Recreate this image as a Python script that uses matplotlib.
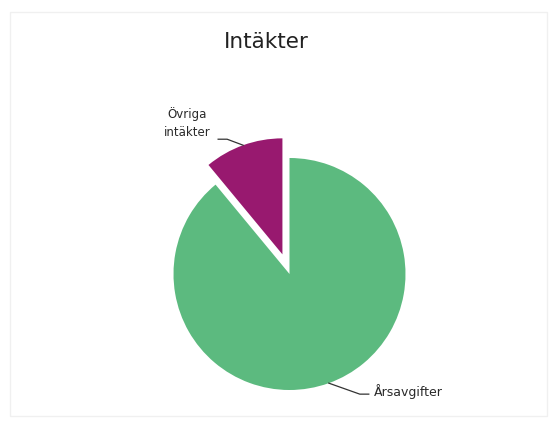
import matplotlib.pyplot as plt
import matplotlib.patches as mpatches
import numpy as np

labels = ['Övriga\nintäkter', 'Årsavgifter']
values = [11, 89]
colors = ['#98196F', '#5CBA7F']
explode = [0.18, 0]

fig = plt.figure(figsize=(5.51, 4.28), dpi=100, facecolor='white')

# faint frame round the chart
fig.patches.append(mpatches.Rectangle((10 / 551, 1 - 416 / 428), 537 / 551, 404 / 428,
                                      transform=fig.transFigure, fill=False,
                                      edgecolor='#f0f0f0', linewidth=1))

R = 116.0  # pie radius in pixels
cx, cy = 289.5, 274.0  # pie centre, pixels from top-left
lim = 1.3
w = 2 * lim * R
ax = fig.add_axes([(cx - lim * R) / 551, (428 - cy - lim * R) / 428, w / 551, w / 428])

wedges, _ = ax.pie(values, colors=colors, explode=explode, startangle=90,
                   counterclock=True, radius=1.0,
                   wedgeprops=dict(linewidth=0))
ax.set_xlim(-lim, lim)
ax.set_ylim(-lim, lim)
ax.set_aspect('equal')
ax.axis('off')

p = 1 / R  # one pixel in data units

# leader lines from the mid-angle of each wedge
pts = []
for wdg in wedges:
    mid = np.deg2rad((wdg.theta1 + wdg.theta2) / 2)
    c = wdg.center
    pts.append((c[0] + np.cos(mid), c[1] + np.sin(mid)))

# Övriga intäkter
px, py = pts[0]
ax.plot([px, px - 16 * p, px - 25 * p], [py, py + 6 * p, py + 6 * p],
        color='#333333', lw=0.9, clip_on=False)
ax.text(-102 * p, 167 * p, labels[0], ha='center', va='top', fontsize=8.5,
        color='#2a2a2a', linespacing=1.5, clip_on=False)

# Årsavgifter
px, py = pts[1]
ax.plot([px, px + 31 * p, px + 40 * p], [py, py - 11 * p, py - 11 * p],
        color='#333333', lw=0.9, clip_on=False)
ax.text(px + 45 * p, py - 8 * p, labels[1], ha='left', va='center', fontsize=9,
        color='#2a2a2a', clip_on=False)

fig.text(266 / 551, 1 - 42 / 428, 'Intäkter', ha='center', va='center',
         fontsize=15.5, color='#222222')

fig.savefig('out.png', dpi=100, facecolor='white')
